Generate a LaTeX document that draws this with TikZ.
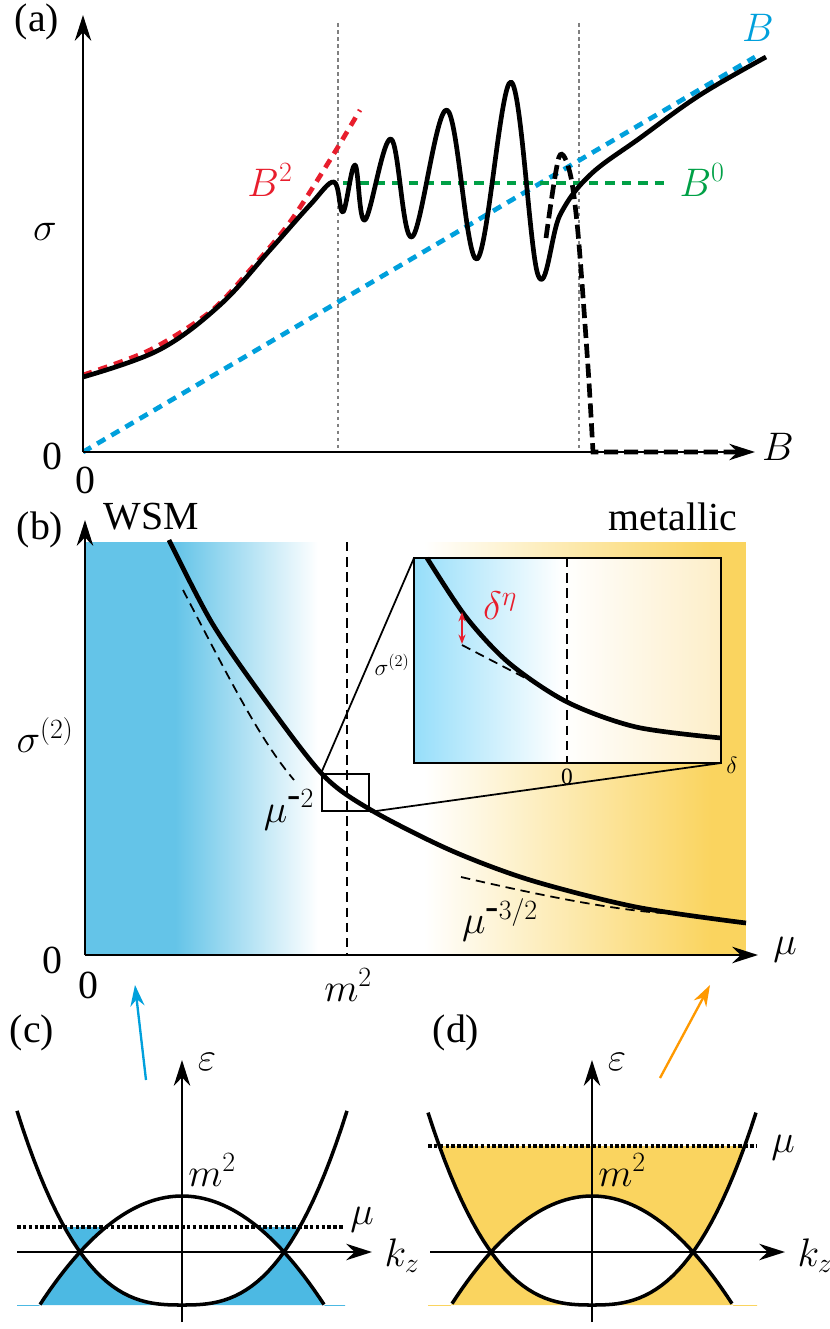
\RequirePackage{fix-cm}
\documentclass[tikz,border=0pt]{standalone}
\usepackage{fontspec}
\setmainfont{Liberation Serif}
\usetikzlibrary{arrows.meta}
\definecolor{lblue}{RGB}{0,160,220}
\definecolor{lred}{RGB}{232,30,45}
\definecolor{lgreen}{RGB}{0,160,70}
\definecolor{bblue}{RGB}{100,196,232}
\definecolor{cblue}{RGB}{76,185,227}
\definecolor{iblue}{RGB}{150,222,250}
\definecolor{byellow}{RGB}{250,212,95}
\definecolor{iyellow}{RGB}{253,238,200}
\tikzset{
  axis/.style={line width=2.2pt,-{Stealth[length=22pt,width=14pt]}},
  curve/.style={line width=4pt,line join=round},
  band/.style={line width=3pt},
  guide/.style={gray,line width=1.5pt,dash pattern=on 3pt off 3pt},
  fitline/.style={line width=4pt,dash pattern=on 8pt off 6pt},
  lbl/.style={font=\fontsize{34}{36}\selectfont,inner sep=0pt},
  small/.style={font=\fontsize{20}{22}\selectfont,inner sep=0pt}
}
\begin{document}
\begin{tikzpicture}[x=0.03cm,y=-0.03cm]
\useasboundingbox (0,0) rectangle (829,1329);
% (a)
\draw[guide] (338,23) -- (338,452);
\draw[guide] (579,23) -- (579,452);
\draw[fitline,lblue] (83,452) -- (755,57);
\draw[fitline,lred] plot[smooth] coordinates {(83,375) (150,350) (210,312) (250,270) (290,222) (330,160) (360,110)};
\draw[fitline,lgreen] (343,183) -- (668,183);
\draw[curve] plot[smooth,tension=0.6] coordinates {(83,377) (159,350) (220,305) (270,250) (310,205) (334,182) (343,212) (355,165) (365,220) (391,139) (412,237) (447,110) (477,259) (511,82) (538,275) (560,215) (590,175) (640,138) (700,95) (766,57)};
\draw[line width=4pt,dash pattern=on 12pt off 5pt] plot[smooth,tension=0.5] coordinates {(546,238) (559,157) (570,173) (578,233) (588,367) (593,452)} -- (740,452);
\draw[axis] (83,452) -- (755,452);
\draw[axis] (83,452) -- (83,15);
\node[lbl] (la) at (37,22) {(a)};
\node[lbl] (sa) at (45,232) {$\sigma$};
\node[lbl] (za) at (52,456) {0};
\node[lbl] (zb) at (85,480) {0};
\node[lbl] (ba) at (778,447) {$B$};
\node[lbl,lblue] (bl) at (758,28) {$B$};
\node[lbl,lred] (br) at (270,180) {$B^2$};
\node[lbl,lgreen] (bg) at (702,180) {$B^0$};
% (b)
\fill[bblue] (85,542) rectangle (175,955);
\shade[left color=bblue,right color=white] (175,542) rectangle (318,955);
\shade[left color=white,right color=byellow] (424,542) rectangle (712,955);
\fill[byellow] (711,542) rectangle (746,955);
\draw[line width=1.5pt,dash pattern=on 8pt off 5pt] (347,542) -- (347,955);
\draw[line width=1.5pt,dash pattern=on 8pt off 5pt] (183,590) .. controls (230,680) and (260,740) .. (294,780);
\draw[line width=1.5pt,dash pattern=on 8pt off 5pt] (461,877) .. controls (560,900) and (620,910) .. (662,913);
\draw[curve] plot[smooth] coordinates {(169,540) (212,623) (265,700) (323,775) (371,810) (450,850) (530,880) (636,907) (746,923)};
\node[draw,line width=1.5pt,inner sep=0pt,minimum width=1.41cm,minimum height=1.11cm] (zoombox) at (345.5,792.5) {};
\fill[white] (414,558) rectangle (721,763);
\shade[left color=iblue,right color=white] (414,558) rectangle (562,763);
\shade[left color=white,right color=iyellow] (562,558) rectangle (721,763);
\draw[line width=1.5pt,dash pattern=on 8pt off 5pt] (567,558) -- (567,763);
\draw[line width=1.5pt,dash pattern=on 8pt off 5pt] (462,645) .. controls (500,665) and (530,680) .. (562,698);
\draw[curve] plot[smooth] coordinates {(427,558) (466,617) (509,663) (567,702) (636,727) (721,738)};
\draw[line width=2pt] (414,558) rectangle (721,763);
\draw[line width=1.5pt] (zoombox.north west) -- (414,558);
\draw[line width=1.5pt] (zoombox.south east) -- (721,763);
\draw[lred,line width=2pt,{Stealth[length=8pt]}-{Stealth[length=8pt]}] (462,612) -- (462,644);
\draw[axis] (85,955) -- (758,955);
\draw[axis] (85,955) -- (85,520);
\node[lbl] (lb) at (40,530) {(b)};
\node[lbl] (wsm) at (151,517) {WSM};
\node[lbl] (met) at (673,517) {metallic};
\node[lbl] (sb) at (45,735) {$\sigma^{(2)}$};
\node[lbl] (zc) at (52,960) {0};
\node[lbl] (zd) at (88,985) {0};
\node[lbl] (msq) at (348,985) {$m^2$};
\node[lbl] (mub) at (785,950) {$\mu$};
\node[lbl] (mum) at (289,810) {$\mu^{\mbox{-}2}$};
\node[lbl] (mut) at (500,920) {$\mu^{\mbox{-}3/2}$};
\node[lbl,lred] (deta) at (500,606) {$\delta^\eta$};
\node[small] (si) at (392,665) {$\sigma^{(2)}$};
\node[small] (zi) at (567,777) {0};
\node[small] (di) at (732,765) {$\delta$};
% arrows to (c),(d)
\draw[lblue,line width=2pt,-{Stealth[length=18pt,width=12pt]}] (146,1080) -- (135,985);
\draw[orange!80!yellow,line width=2pt,-{Stealth[length=18pt,width=12pt]}] (660,1078) -- (710,985);
% (c)
\begin{scope}
\clip (17,1227) rectangle (345,1305);
\fill[cblue,even odd rule] (0,1200) rectangle (400,1305)
  plot[domain=-170:170,samples=60] ({182+\x},{1305-53*pow(abs(\x)/102,2.7)}) -- (352,1400) -- (12,1400) -- cycle
  plot[domain=-170:170,samples=60] ({182+\x},{1196+56*(\x/102)^2}) -- (352,1400) -- (12,1400) -- cycle;
\end{scope}
\draw[band] plot[domain=-165:165,samples=60] ({182+\x},{1305-53*pow(abs(\x)/102,2.7)});
\draw[band] plot[domain=-142:142,samples=60] ({182+\x},{1196+56*(\x/102)^2});
\draw[line width=3pt,dotted] (17,1227) -- (345,1227);
\draw[axis] (17,1252) -- (372,1252);
\draw[axis] (182,1322) -- (182,1060);
\node[lbl] (lc) at (32,1033) {(c)};
\node[lbl] (ec) at (207,1062) {$\varepsilon$};
\node[lbl] (mc) at (212,1170) {$m^2$};
\node[lbl] (muc) at (362,1220) {$\mu$};
\node[lbl] (kc) at (402,1256) {$k_z$};
% (d)
\begin{scope}
\clip (428,1146) rectangle (757,1305);
\fill[byellow,even odd rule] (400,1100) rectangle (800,1305)
  plot[domain=-170:170,samples=60] ({592+\x},{1305-53*pow(abs(\x)/101,2.66)}) -- (762,1400) -- (422,1400) -- cycle
  plot[domain=-170:170,samples=60] ({592+\x},{1196+56*(\x/101)^2}) -- (762,1400) -- (422,1400) -- cycle;
\end{scope}
\draw[band] plot[domain=-164:164,samples=60] ({592+\x},{1305-53*pow(abs(\x)/101,2.66)});
\draw[band] plot[domain=-140:140,samples=60] ({592+\x},{1196+56*(\x/101)^2});
\draw[line width=3pt,dotted] (428,1146) -- (757,1146);
\draw[axis] (430,1252) -- (785,1252);
\draw[axis] (592,1322) -- (592,1060);
\node[lbl] (ld) at (456,1033) {(d)};
\node[lbl] (ed) at (617,1062) {$\varepsilon$};
\node[lbl] (md) at (622,1170) {$m^2$};
\node[lbl] (mud) at (783,1148) {$\mu$};
\node[lbl] (kd) at (815,1256) {$k_z$};
\end{tikzpicture}
\end{document}
